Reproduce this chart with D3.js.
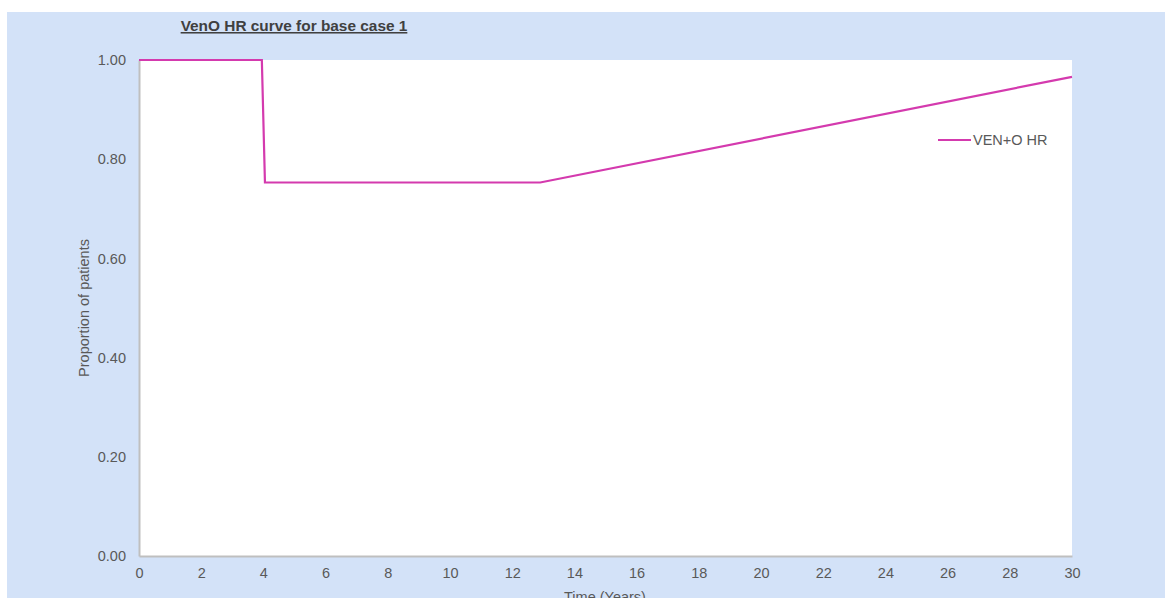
<!DOCTYPE html>
<html>
<head>
<meta charset="utf-8">
<script src="https://cdn.jsdelivr.net/npm/d3@7"></script>
<style>
  html, body { margin: 0; padding: 0; background: #ffffff; }
  svg { display: block; }
  text { font-family: "Liberation Sans", Arial, sans-serif; }
</style>
</head>
<body>
<svg id="chart" width="1165" height="598"></svg>
<script>
// Hazard-ratio curve for VEN+O (base case 1)
const seriesName = "VEN+O HR";
const timeYears = [0, 3.95, 4.05, 12.9, 30];
const hrValues  = [1.00, 1.00, 0.753, 0.753, 0.966];
const xTicks = [0, 2, 4, 6, 8, 10, 12, 14, 16, 18, 20, 22, 24, 26, 28, 30];
const yTicks = [0, 0.2, 0.4, 0.6, 0.8, 1.0];

const W = 1165, H = 598;
const plot = { left: 139, right: 1072, top: 60, bottom: 556 };
const labelSize = "14.5px";

const svg = d3.select("#chart");

// panel background
svg.append("rect")
  .attr("x", 7).attr("y", 12)
  .attr("width", W - 7).attr("height", H - 12)
  .attr("fill", "#d3e2f8");

// plot area
svg.append("rect")
  .attr("x", plot.left).attr("y", plot.top)
  .attr("width", plot.right - plot.left).attr("height", plot.bottom - plot.top)
  .attr("fill", "#ffffff");

const x = d3.scaleLinear().domain([0, 30]).range([plot.left, plot.right]);
const y = d3.scaleLinear().domain([0, 1]).range([plot.bottom, plot.top]);

// axes
const xAxis = svg.append("g")
  .attr("transform", `translate(0,${plot.bottom})`)
  .call(d3.axisBottom(x).tickValues(xTicks).tickSize(0).tickPadding(12).tickFormat(d3.format("d")));
const yAxis = svg.append("g")
  .attr("transform", `translate(${plot.left},0)`)
  .call(d3.axisLeft(y).tickValues(yTicks).tickSize(0).tickPadding(13).tickFormat(d3.format(".2f")));

[xAxis, yAxis].forEach(g => {
  g.select(".domain").attr("stroke", "#bfbfbf").attr("stroke-width", 2);
  g.selectAll("text")
    .attr("fill", "#595959")
    .style("font-size", labelSize)
    .style("font-family", "'Liberation Sans', Arial, sans-serif");
});

// curve
const line = d3.line()
  .x((d, i) => x(timeYears[i]))
  .y(d => y(d));

svg.append("path")
  .datum(hrValues)
  .attr("d", line)
  .attr("fill", "none")
  .attr("stroke", "#d43aae")
  .attr("stroke-width", 2.2)
  .attr("stroke-linejoin", "miter");

// title
svg.append("text")
  .attr("x", 294).attr("y", 31)
  .attr("text-anchor", "middle")
  .attr("fill", "#404040")
  .style("font-size", "15.4px")
  .style("font-weight", "bold")
  .style("text-decoration", "underline")
  .text("VenO HR curve for base case 1");

// axis titles
svg.append("text")
  .attr("transform", "translate(89,308) rotate(-90)")
  .attr("text-anchor", "middle")
  .attr("fill", "#595959")
  .style("font-size", labelSize)
  .text("Proportion of patients");

svg.append("text")
  .attr("x", 605).attr("y", 602)
  .attr("text-anchor", "middle")
  .attr("fill", "#595959")
  .style("font-size", labelSize)
  .text("Time (Years)");

// legend
const legend = svg.append("g").attr("transform", "translate(938,140)");
legend.append("line")
  .attr("x1", 0).attr("x2", 33).attr("y1", 0).attr("y2", 0)
  .attr("stroke", "#d43aae").attr("stroke-width", 2.2);
legend.append("text")
  .attr("x", 35).attr("y", 5)
  .attr("fill", "#595959")
  .style("font-size", labelSize)
  .text(seriesName);
</script>
</body>
</html>
